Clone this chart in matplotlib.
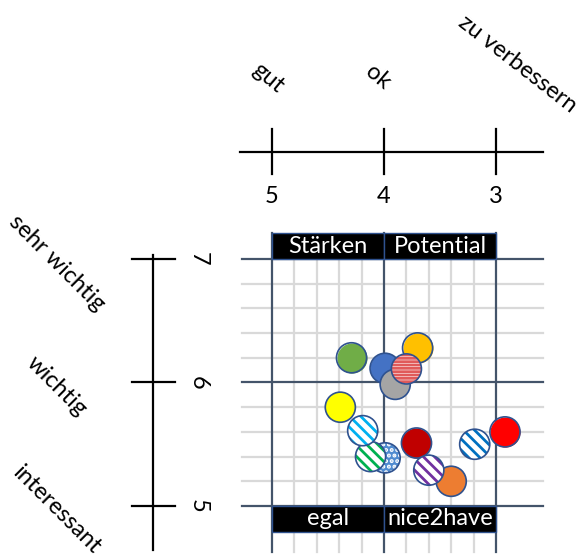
import numpy as np
import matplotlib.pyplot as plt

plt.rcParams['font.family'] = ['Lato', 'DejaVu Sans']
plt.rcParams['hatch.linewidth'] = 2.0

## Achsen: Bewertung (x) und Wichtigkeit (y)
x_ticks = [5, 4, 3]
x_names = ['gut', 'ok', 'zu verbessern']
y_ticks = [7, 6, 5]
y_names = ['sehr wichtig', 'wichtig', 'interessant']
top_boxes = ['Stärken', 'Potential']
bottom_boxes = ['egal', 'nice2have']

## Punkte (Reihenfolge = Zeichenreihenfolge)
pts_x = [4.29, 3.99, 3.90, 3.70, 3.80, 3.99, 4.12, 4.39, 4.19, 3.71, 3.40, 3.60, 3.19, 2.92]
pts_y = [6.20, 6.115, 5.985, 6.28, 6.11, 5.39, 5.40, 5.80, 5.61, 5.51, 5.20, 5.29, 5.50, 5.60]
fills = ['#70AD47', '#4472C4', '#A5A5A5', '#FFC000', 'white', '#4F8BD0', 'white',
         '#FFFF00', 'white', '#C00000', '#ED7D31', 'white', 'white', '#FF0000']
hatches = [None, None, None, None, '-----', '...', '\\\\\\', None, '\\\\\\', None, None,
           '\\\\\\', '\\\\\\', None]
hatch_cols = [None, None, None, None, '#E05A5A', 'white', '#00B050', None, '#00B0F0',
              None, None, '#7030A0', '#0070C0', None]

## Layout
major_col = '#44546A'
minor_col = '#D9D9D9'
edge_col = '#2F528F'
grid_l, grid_r = 5.27, 2.58
grid_bottom = 4.63
box_h = 0.21
top_axis_y = 7.87
left_axis_x = 6.06
fs = 17
dot_size = 470

fig = plt.figure(figsize=(5.82, 5.57), dpi=100)
ax = fig.add_axes([0, 0, 1, 1])
ax.set_xlim(7.4286, 2.2321)
ax.set_ylim(4.587, 9.0972)
ax.set_axis_off()

## Raster
steps = np.round(np.arange(y_ticks[-1], y_ticks[0] + 0.01, 0.2), 1)
for v in steps:
    if v not in y_ticks:
        ax.plot([grid_l, grid_r], [v, v], color=minor_col, lw=1.6, zorder=1)
xsteps = np.round(np.arange(x_ticks[-1], x_ticks[0] + 0.01, 0.2), 1)
for v in xsteps:
    if v not in x_ticks:
        ax.plot([v, v], [grid_bottom, y_ticks[0]], color=minor_col, lw=1.6, zorder=1)
for v in y_ticks:
    ax.plot([grid_l, grid_r], [v, v], color=major_col, lw=1.6, zorder=2)
for v in x_ticks:
    ax.plot([v, v], [grid_bottom, y_ticks[0] + box_h], color=major_col, lw=1.6, zorder=2)

## Kästen oben und unten
for i, name in enumerate(top_boxes):
    x0, x1 = x_ticks[i], x_ticks[i + 1]
    ax.fill([x0, x1, x1, x0], [y_ticks[0], y_ticks[0], y_ticks[0] + box_h, y_ticks[0] + box_h],
            facecolor='black', edgecolor=edge_col, lw=1, zorder=3)
    ax.text((x0 + x1) / 2, y_ticks[0] + box_h / 2, name, color='white', fontsize=fs,
            ha='center', va='center', zorder=4)
for i, name in enumerate(bottom_boxes):
    x0, x1 = x_ticks[i], x_ticks[i + 1]
    y0 = y_ticks[-1]
    ax.fill([x0, x1, x1, x0], [y0 - box_h, y0 - box_h, y0, y0],
            facecolor='black', edgecolor=edge_col, lw=1, zorder=3)
    ax.text((x0 + x1) / 2, y0 - box_h / 2, name, color='white', fontsize=fs,
            ha='center', va='center', zorder=4)

## Punkte
for i in range(len(pts_x)):
    z = 10 + 2 * i
    if hatches[i]:
        ax.scatter(pts_x[i], pts_y[i], s=dot_size, facecolor=fills[i], edgecolor=hatch_cols[i],
                   hatch=hatches[i], lw=0, zorder=z)
    else:
        ax.scatter(pts_x[i], pts_y[i], s=dot_size, facecolor=fills[i], lw=0, zorder=z)
    ax.scatter(pts_x[i], pts_y[i], s=dot_size, facecolor='none', edgecolor=edge_col, lw=1.2,
               zorder=z + 1)

## obere Skala
ax.plot([5.29, 2.58], [top_axis_y, top_axis_y], color='black', lw=1.6)
for v in x_ticks:
    ax.plot([v, v], [top_axis_y - 0.18, top_axis_y + 0.18], color='black', lw=1.6)
    ax.text(v, top_axis_y - 0.365, str(v), fontsize=fs, ha='center', va='center')
ax.text(5.036, 8.466, x_names[0], fontsize=fs, rotation=-40, rotation_mode='anchor',
        ha='center', va='center')
ax.text(4.054, 8.47, x_names[1], fontsize=fs, rotation=-40, rotation_mode='anchor',
        ha='center', va='center')
ax.text(2.81, 8.58, x_names[2], fontsize=fs, rotation=-38, rotation_mode='anchor',
        ha='center', va='center')

## linke Skala
ax.plot([left_axis_x, left_axis_x], [7.03, 4.64], color='black', lw=1.6)
for v in y_ticks:
    ax.plot([left_axis_x - 0.19, left_axis_x + 0.19], [v, v], color='black', lw=1.6)
    ax.text(left_axis_x - 0.40, v, str(v), fontsize=fs, rotation=-90, ha='center', va='center')
for v, name in zip(y_ticks, y_names):
    ax.text(6.92, v - 0.03, name, fontsize=fs, rotation=-45, rotation_mode='anchor',
            ha='center', va='center')

fig.savefig('out.png', dpi=100)
